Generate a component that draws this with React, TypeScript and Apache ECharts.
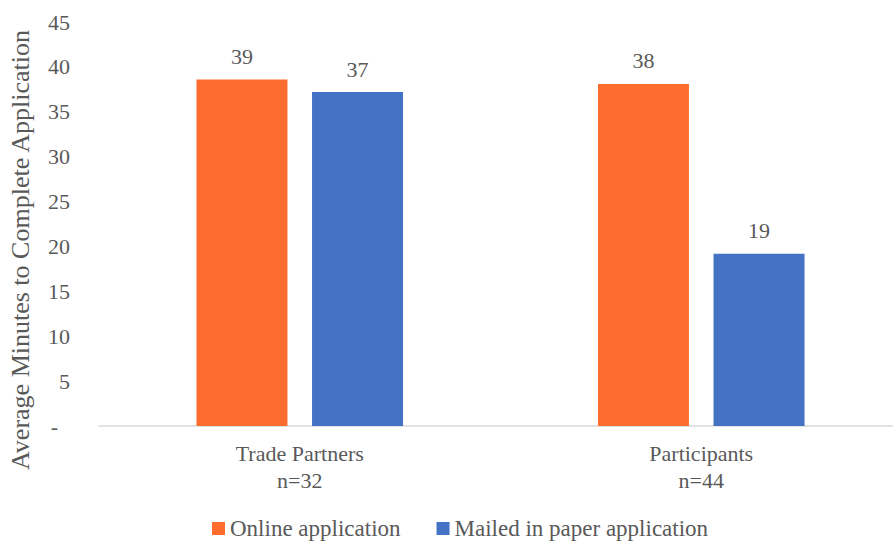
import React, { useEffect, useRef } from "react";
import * as echarts from "echarts";

const categories = ["Trade Partners\nn=32", "Participants\nn=44"];
const onlineValues = [38.6, 38.1];
const mailedValues = [37.2, 19.2];
const seriesNames = ["Online application", "Mailed in paper application"];
const yAxisTitle = "Average Minutes to Complete Application";

const FONT = "Liberation Serif";
const TEXT = "#595959";

export default function App() {
  const ref = useRef<HTMLDivElement>(null);
  useEffect(() => {
    if (!ref.current) return;
    const chart = echarts.init(ref.current, undefined, { renderer: "svg" });
    const label = {
      show: true,
      position: "top" as const,
      distance: 12,
      color: TEXT,
      fontFamily: FONT,
      fontSize: 22,
      formatter: (p: any) => String(Math.round(p.value)),
    };
    chart.setOption({
      animation: false,
      textStyle: { fontFamily: FONT, color: TEXT },
      grid: { left: 99, right: 0, top: 22, bottom: 118 },
      legend: {
        top: 512,
        left: 207,
        itemWidth: 13,
        itemHeight: 13,
        itemGap: 36,
        icon: "rect",
        textStyle: { fontFamily: FONT, fontSize: 23, color: TEXT },
        data: seriesNames,
      },
      graphic: [
        {
          type: "text",
          x: 20,
          y: 250,
          rotation: Math.PI / 2,
          style: {
            text: yAxisTitle,
            fontFamily: FONT,
            fontSize: 26,
            fill: TEXT,
            textAlign: "center",
            textVerticalAlign: "middle",
          },
        },
      ],
      xAxis: {
        type: "category",
        data: categories,
        axisLine: { lineStyle: { color: "#D9D9D9", width: 1.5 } },
        axisTick: { show: false },
        axisLabel: {
          color: TEXT,
          fontFamily: FONT,
          fontSize: 22,
          lineHeight: 27,
          margin: 14,
        },
      },
      yAxis: {
        type: "value",
        min: 0,
        max: 45,
        interval: 5,
        splitLine: { show: false },
        axisLine: { show: false },
        axisTick: { show: false },
        axisLabel: {
          color: TEXT,
          fontFamily: FONT,
          fontSize: 22,
          margin: 29,
          formatter: (v: number) => (v === 0 ? "{d|-}" : String(v)),
          rich: { d: { color: TEXT, fontFamily: FONT, fontSize: 22, padding: [0, 12, 0, 0] } },
        },
      },
      series: [
        {
          name: seriesNames[0],
          type: "bar",
          data: onlineValues,
          barWidth: 91,
          barGap: "27%",
          itemStyle: { color: "#FF6D2E" },
          label,
        },
        {
          name: seriesNames[1],
          type: "bar",
          data: mailedValues,
          barWidth: 91,
          itemStyle: { color: "#4472C4" },
          label,
        },
      ],
    });
    return () => chart.dispose();
  }, []);
  return (
    <div style={{ position: "absolute", left: 0, top: 0, width: 893, height: 544, overflow: "hidden" }}>
      <div ref={ref} style={{ width: 902, height: 544 }} />
    </div>
  );
}
